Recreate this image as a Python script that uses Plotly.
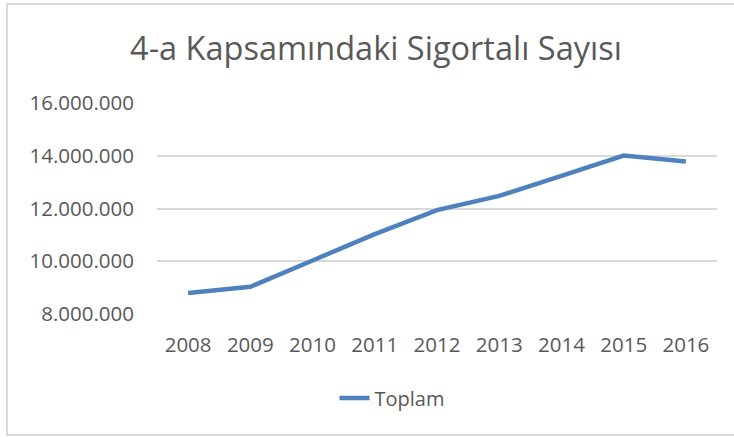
import plotly.graph_objects as go

years = ["2008", "2009", "2010", "2011", "2012", "2013", "2014", "2015", "2016"]
toplam = [8800000, 9030000, 10030000, 11030000, 11940000, 12480000, 13240000, 14010000, 13780000]
y_ticks = [8000000, 10000000, 12000000, 14000000, 16000000]
y_ticktext = ["8.000.000", "10.000.000", "12.000.000", "14.000.000", "16.000.000"]

W, H = 734, 437
L, R, T, B = 157, 17, 103, 123
pw, ph = W - L - R, H - T - B

def px_x(x):
    return (x - L) / pw

def px_y(y):
    return (H - B - y) / ph

fig = go.Figure()
fig.add_trace(go.Scatter(
    x=years, y=toplam, mode="lines", name="Toplam",
    line=dict(color="#4F81BD", width=4.5),
))

text_col = "#595959"
font_family = "Open Sans"

fig.update_layout(
    width=W, height=H,
    margin=dict(l=L, r=R, t=T, b=B),
    paper_bgcolor="white", plot_bgcolor="white",
    font=dict(family=font_family, color=text_col, size=20),
    title=dict(text="4-a Kapsamındaki Sigortalı Sayısı", x=376 / W, xanchor="center",
               y=1 - 49 / H, yanchor="middle", yref="container",
               font=dict(size=32.5, color=text_col, family=font_family)),
    showlegend=True,
    legend=dict(orientation="h", x=px_x(392), xanchor="center", y=px_y(398), yanchor="middle",
                font=dict(size=20, color=text_col)),
    xaxis=dict(type="category", range=[-0.5, 8.5], showgrid=False, showline=False, ticks="",
               tickfont=dict(size=20.5, color=text_col), ticklabelstandoff=16),
    yaxis=dict(range=[8000000, 16000000], tickvals=y_ticks, ticktext=y_ticktext,
               showgrid=True, gridcolor="#d9d9d9", gridwidth=1.5, zeroline=False,
               showline=False, ticks="", tickfont=dict(size=20.5, color=text_col),
               ticklabelstandoff=22),
    shapes=[dict(type="rect", xref="paper", yref="paper",
                 x0=px_x(7), x1=px_x(745), y0=px_y(435), y1=px_y(4),
                 line=dict(color="#d9d9d9", width=2), fillcolor="rgba(0,0,0,0)", layer="below")],
)

fig.write_html("out.html", config={"displayModeBar": False},
               post_script="document.body.style.margin='0';document.body.style.padding='0';")
